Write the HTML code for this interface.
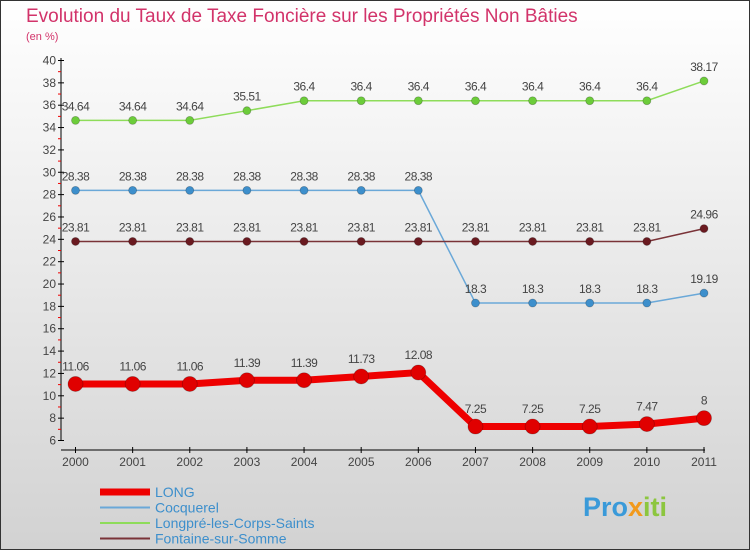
<!DOCTYPE html>
<html><head><meta charset="utf-8"><style>
body{margin:0;width:750px;height:550px;overflow:hidden;font-family:"Liberation Sans",sans-serif}
</style></head><body>
<svg width="750" height="550" xmlns="http://www.w3.org/2000/svg">
<defs><linearGradient id="bg" x1="0" y1="0" x2="0" y2="1"><stop offset="0" stop-color="#ffffff"/><stop offset="1" stop-color="#d2d2d2"/></linearGradient></defs>
<rect x="0.5" y="0.5" width="749" height="549" fill="url(#bg)" stroke="#333"/>
<text x="26" y="22" font-size="19" fill="#d2336a">Evolution du Taux de Taxe Foncière sur les Propriétés Non Bâties</text>
<text x="26" y="40" font-size="11" fill="#d2336a">(en %)</text>
<g id="axes"></g><g id="series"></g>
<g id="legend"></g>
<text x="583" y="516" font-size="27" font-weight="bold" fill="#3a9ad9">Pro<tspan fill="#f29a1c">x</tspan><tspan fill="#8cc63f">iti</tspan></text>
</svg>
<script>
const years=[2000,2001,2002,2003,2004,2005,2006,2007,2008,2009,2010,2011];
const yTicks=[6,8,10,12,14,16,18,20,22,24,26,28,30,32,34,36,38,40];
const seriesNames=["LONG","Cocquerel","Longpré-les-Corps-Saints","Fontaine-sur-Somme"];
const longVals=[11.06,11.06,11.06,11.39,11.39,11.73,12.08,7.25,7.25,7.25,7.47,8];
const cocqVals=[28.38,28.38,28.38,28.38,28.38,28.38,28.38,18.3,18.3,18.3,18.3,19.19];
const longpreVals=[34.64,34.64,34.64,35.51,36.4,36.4,36.4,36.4,36.4,36.4,36.4,38.17];
const fontaineVals=[23.81,23.81,23.81,23.81,23.81,23.81,23.81,23.81,23.81,23.81,23.81,24.96];
const NS="http://www.w3.org/2000/svg";
const X=i=>75.5+i*(628.5/11);
const Y=v=>440.5-(v-6)*(380/34);
function mk(p,t,a){const e=document.createElementNS(NS,t);for(const k in a)e.setAttribute(k,a[k]);p.appendChild(e);return e;}
const ax=document.getElementById('axes');
let l=mk(ax,'line',{x1:61,y1:58,x2:61,y2:441,stroke:'#000'});


l=mk(ax,'line',{x1:61,y1:450,x2:705,y2:450,stroke:'#000'});


yTicks.forEach(v=>{const y=Y(v);
mk(ax,'line',{x1:58,y1:y,x2:64,y2:y,stroke:'#000'});
if(v<40)mk(ax,'line',{x1:58,y1:Y(v+1),x2:61,y2:Y(v+1),stroke:'#e00'});
const t=mk(ax,'text',{x:56,y:y+4,'font-size':12,'text-anchor':'end',fill:'#444'});t.textContent=v;

});
years.forEach((yr,i)=>{const x=X(i);
mk(ax,'line',{x1:x,y1:447,x2:x,y2:453,stroke:'#000'});
const t=mk(ax,'text',{x:x,y:466,'font-size':12,'text-anchor':'middle',fill:'#444'});t.textContent=yr;

});
const sg=document.getElementById('series');
const defs=[[longpreVals,'#8edc5a','#6ccc3a',1.5,4,'longpre'],[cocqVals,'#6aa8d8','#3d8fcc',1.5,4,'cocquerel'],[fontaineVals,'#7a3338','#6a1a20',1.5,4,'fontaine'],[longVals,'#ee0000','#e00000',7,7.5,'long']];
defs.forEach(([vals,lc,pc,w,r,nm])=>{
const pl=mk(sg,'polyline',{points:vals.map((v,i)=>X(i)+','+Y(v)).join(' '),fill:'none',stroke:lc,'stroke-width':w});


vals.forEach((v,i)=>{const c=mk(sg,'circle',{cx:X(i),cy:Y(v),r:r,fill:pc,stroke:'rgba(0,0,0,0.25)','stroke-width':0.8});


const t=mk(sg,'text',{x:X(i),y:Y(v)-(r+6),'font-size':12,'text-anchor':'middle',fill:'#444','letter-spacing':'-0.5'});t.textContent=v;

});});
const lg=document.getElementById('legend');
const lcol=['#ee0000','#6aa8d8','#8edc5a','#7a3338'],lw=[7,2,2,2];
seriesNames.forEach((n,i)=>{const y=492+i*15.5;
const ln=mk(lg,'line',{x1:100,y1:y,x2:150,y2:y,stroke:lcol[i],'stroke-width':lw[i]});


const t=mk(lg,'text',{x:155,y:y+5,'font-size':14,fill:'#3d8fcc'});t.textContent=n;

});
</script>
</body></html>
